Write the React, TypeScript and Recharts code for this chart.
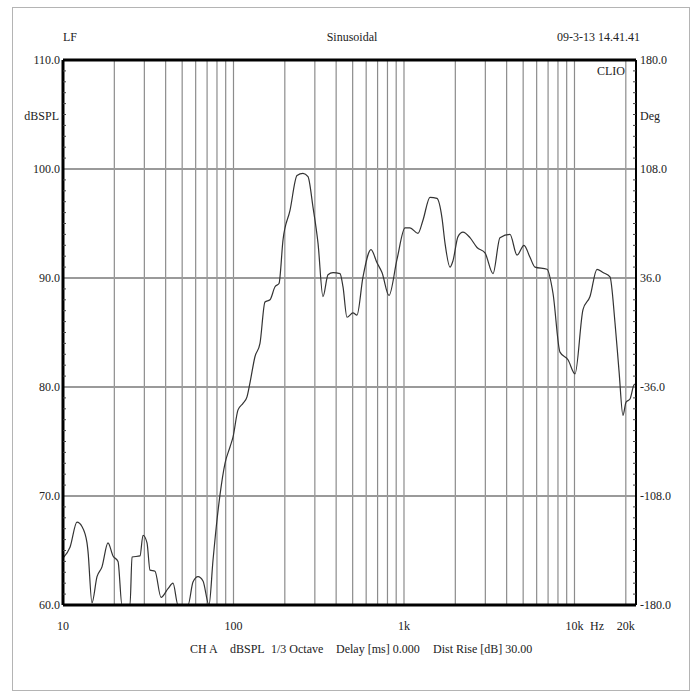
import React from 'react';
import { LineChart, Line, XAxis, YAxis, ReferenceLine } from 'recharts';

// Frequency response (Hz -> dBSPL)
const freqHz = [10, 10.99, 12.08, 12.92, 13.83, 14.02, 14.79, 15.83, 16.93, 18.36, 19.65, 21.02, 22.18, 23.42, 24.72, 25.4, 28.29, 29.46, 31.1, 32.38, 34.64, 37.57, 41.29, 44.18, 47.27, 54.09, 57.87, 61.92, 66.24, 71.83, 75.82, 80.02, 83.33, 89.17, 95.39, 99.33, 106.3, 113.7, 120, 125, 133.7, 143, 153, 163.7, 175.2, 184.9, 195.2, 214.5, 235.8, 255.6, 273.5, 292.6, 313.1, 334.9, 358.4, 383.4, 421.3, 438.7, 463.1, 502.2, 530.1, 574.8, 640.5, 694.5, 743, 816.6, 909.7, 1014, 1084, 1208, 1292, 1421, 1561, 1671, 1740, 1861, 1939, 2074, 2218, 2438, 2681, 2987, 3327, 3656, 4185, 4601, 5056, 5483, 5866, 6899, 7480, 8222, 9161, 10070, 11218, 12330, 13552, 14695, 16152, 17281, 18240, 19250, 20050, 21160, 22340, 22950];
const splDb = [64.3, 65.3, 67.6, 67.2, 65.7, 64.9, 60.2, 62.6, 63.5, 65.7, 64.5, 64.0, 60.0, 60.0, 60.0, 64.4, 64.5, 66.4, 65.7, 63.2, 63.1, 60.7, 61.5, 62.0, 60.0, 60.0, 62.1, 62.6, 62.2, 60.0, 64.1, 67.8, 70.1, 73.0, 74.5, 75.4, 77.9, 78.5, 79.1, 80.4, 82.8, 84.0, 87.8, 88.0, 89.2, 89.5, 93.5, 96.2, 99.4, 99.6, 99.3, 96.5, 93.2, 88.3, 90.3, 90.5, 90.4, 89.2, 86.4, 86.8, 86.6, 90.1, 92.6, 91.4, 90.5, 88.4, 91.7, 94.6, 94.6, 94.1, 95.3, 97.4, 97.3, 95.5, 93.2, 91.0, 91.6, 93.8, 94.2, 93.7, 92.8, 92.3, 90.4, 93.7, 94.0, 92.1, 93.0, 91.9, 91.0, 90.8, 88.6, 83.2, 82.5, 81.2, 87.1, 88.3, 90.8, 90.5, 90.1, 85.9, 81.5, 77.4, 78.6, 78.9, 80.2, 80.3];

const data = freqHz.map((f, i) => ({ f, spl: splDb[i] }));

const xTicks = [10, 100, 1000, 10000, 20000];
const xTickLabels = ['10', '100', '1k', '10k', '20k'];
const gridFreqs = [20, 30, 40, 50, 60, 70, 80, 90, 100, 200, 300, 400, 500, 600, 700, 800, 900, 1000, 2000, 3000, 4000, 5000, 6000, 7000, 8000, 9000, 10000, 20000];
const dbMajor = [60, 70, 80, 90, 100, 110];
const dbGrid = [70, 80, 90, 100];
const degMajor = [-180, -108, -36, 36, 108, 180];
const dbMinor = Array.from({ length: 51 }, (_, i) => 60 + i);

const FONT = 'Liberation Serif, DejaVu Serif, serif';
const TXT = '#222';

// degrees share the dB scale linearly: -180 deg <-> 60 dB, 180 deg <-> 110 dB
const degToDb = (d: number) => 60 + ((d + 180) / 360) * 50;
const dbToDeg = (v: number) => -180 + ((v - 60) / 50) * 360;

const LeftTick = (p: any) => {
  const v = p.payload.value;
  const major = dbMajor.includes(v);
  return (
    <g>
      {!major && <line x1={p.x + 3} x2={p.x + 6} y1={p.y} y2={p.y} stroke="#444" strokeWidth={1} />}
      {major && (
        <text x={p.x} y={p.y} dy="0.35em" textAnchor="end" fontFamily={FONT} fontSize={12} fill={TXT}>
          {v.toFixed(1)}
        </text>
      )}
    </g>
  );
};

const RightTick = (p: any) => {
  const v = p.payload.value;
  const deg = dbToDeg(v);
  const major = degMajor.some((m) => Math.abs(m - deg) < 0.01);
  return (
    <g>
      {!major && <line x1={p.x - 7} x2={p.x - 4} y1={p.y} y2={p.y} stroke="#444" strokeWidth={1} />}
      {major && (
        <text x={p.x} y={p.y} dy="0.35em" textAnchor="start" fontFamily={FONT} fontSize={12} fill={TXT}>
          {(Math.round(deg * 10) / 10).toFixed(1)}
        </text>
      )}
    </g>
  );
};

const XTick = (p: any) => {
  const v = p.payload.value;
  const idx = xTicks.indexOf(v);
  return (
    <text x={p.x} y={p.y + 21} dy="0.35em" textAnchor="middle" fontFamily={FONT} fontSize={12} fill={TXT}>
      {idx >= 0 ? xTickLabels[idx] : ''}
    </text>
  );
};

export default function App() {
  return (
    <div style={{ position: 'absolute', left: 0, top: 0, width: 700, height: 700, background: '#fff' }}>
      <div
        style={{
          position: 'absolute',
          left: 12,
          top: 7,
          width: 678,
          height: 684,
          border: '1px solid #b4b4b4',
          boxSizing: 'border-box',
        }}
      />
      <div style={{ position: 'absolute', left: 0, top: 0 }}>
        <LineChart width={700} height={700} data={data} margin={{ top: 60, right: 0, left: 0, bottom: 0 }}>
          <XAxis
            dataKey="f"
            type="number"
            scale="log"
            domain={[10, 22950]}
            allowDataOverflow
            ticks={xTicks}
            interval={0}
            height={95}
            tickSize={0}
            tickMargin={0}
            tick={<XTick />}
            axisLine={{ stroke: '#000', strokeWidth: 3 }}
            tickLine={false}
          />
          <YAxis
            yAxisId="db"
            type="number"
            domain={[60, 110]}
            allowDataOverflow
            ticks={dbMinor}
            interval={0}
            width={63}
            tickSize={0}
            tickMargin={3}
            tick={<LeftTick />}
            axisLine={{ stroke: '#000', strokeWidth: 3 }}
            tickLine={false}
          />
          <YAxis
            yAxisId="deg"
            orientation="right"
            type="number"
            dataKey="spl"
            domain={[60, 110]}
            allowDataOverflow
            ticks={dbMinor}
            interval={0}
            width={64}
            tickSize={0}
            tickMargin={4}
            tick={<RightTick />}
            axisLine={{ stroke: '#000', strokeWidth: 2 }}
            tickLine={false}
          />
          {gridFreqs.map((f) => (
            <ReferenceLine key={'v' + f} x={f} yAxisId="db" stroke="#8c8c8c" strokeWidth={1.2} />
          ))}
          {dbGrid.map((d) => (
            <ReferenceLine key={'h' + d} y={d} yAxisId="db" stroke="#9a9a9a" strokeWidth={2} />
          ))}
          <ReferenceLine y={110} yAxisId="db" stroke="#000" strokeWidth={3} />
          <Line
            yAxisId="db"
            type="monotone"
            dataKey="spl"
            stroke="#333"
            strokeWidth={1.2}
            dot={false}
            isAnimationActive={false}
          />
          <Line
            yAxisId="deg"
            type="monotone"
            dataKey="spl"
            stroke="none"
            strokeWidth={0}
            dot={false}
            activeDot={false}
            isAnimationActive={false}
          />
        </LineChart>
      </div>
      <svg width={700} height={700} style={{ position: 'absolute', left: 0, top: 0, pointerEvents: 'none' }}>
        <g fontFamily={FONT} fontSize={12} fill={TXT}>
          <text x={63} y={37} dy="0.35em" textAnchor="start">LF</text>
          <text x={352} y={37} dy="0.35em" textAnchor="middle">Sinusoidal</text>
          <text x={640} y={37} dy="0.35em" textAnchor="end">09-3-13 14.41.41</text>
          <text x={59} y={116} dy="0.35em" textAnchor="end">dBSPL</text>
          <text x={640} y={116} dy="0.35em" textAnchor="start">Deg</text>
          <text x={597} y={71} dy="0.35em" textAnchor="start">CLIO</text>
          <text x={597} y={626} dy="0.35em" textAnchor="middle">Hz</text>
          <text x={190} y={649} dy="0.35em" textAnchor="start">CH A</text>
          <text x={230} y={649} dy="0.35em" textAnchor="start">dBSPL</text>
          <text x={271} y={649} dy="0.35em" textAnchor="start">1/3 Octave</text>
          <text x={336} y={649} dy="0.35em" textAnchor="start">Delay [ms] 0.000</text>
          <text x={433} y={649} dy="0.35em" textAnchor="start">Dist Rise [dB] 30.00</text>
        </g>
      </svg>
    </div>
  );
}
